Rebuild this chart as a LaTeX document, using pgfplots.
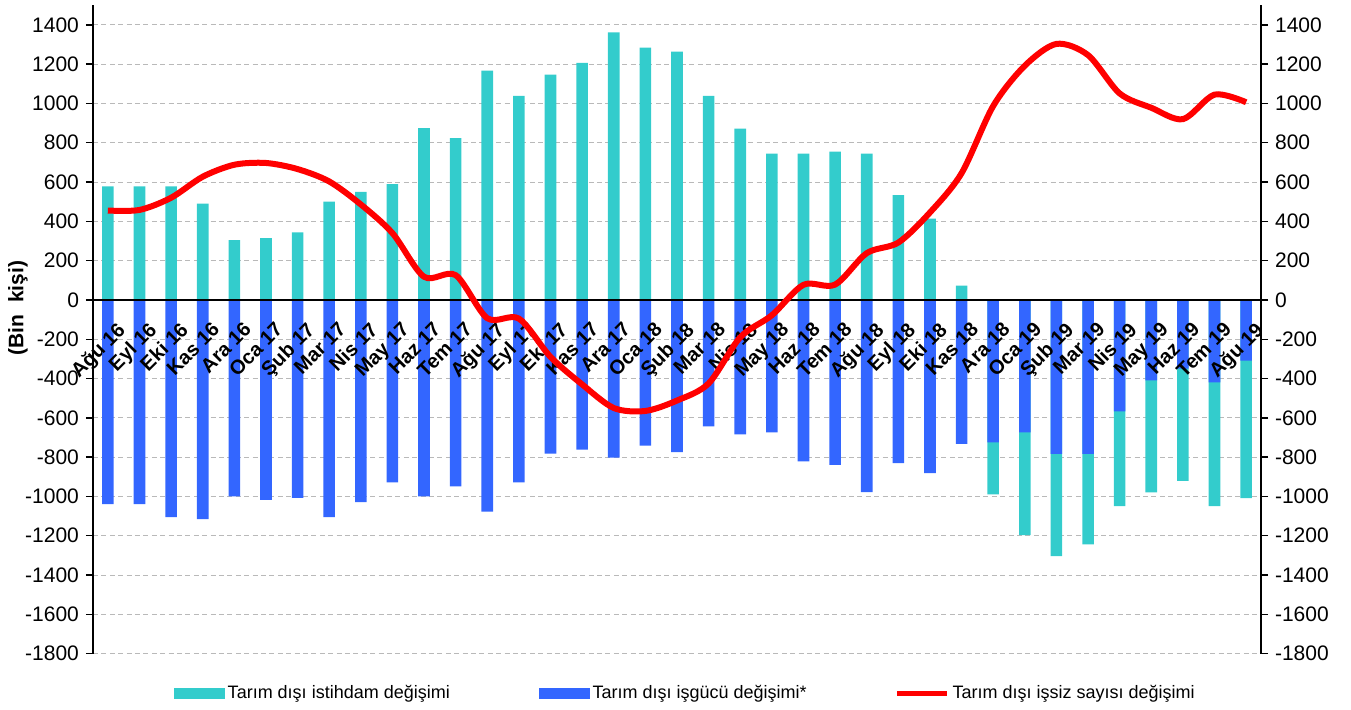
\documentclass[border=0pt]{standalone}
\usepackage{fontspec}
\setmainfont{Liberation Sans}
\usepackage{pgfplots}
\pgfplotsset{compat=1.18}
\definecolor{istcol}{RGB}{51,204,204}
\definecolor{isgcol}{RGB}{51,102,255}
\definecolor{isscol}{RGB}{255,0,0}
\definecolor{gridcol}{RGB}{185,185,185}

\pgfplotsset{
  common/.style={
    at={(0pt,0pt)}, anchor=south west,
    scale only axis, width=584pt, height=324.2pt,
    xmin=-0.47, xmax=36.47, ymin=-1800, ymax=1500,
    hide obscured x ticks=false, hide obscured y ticks=false,
    ytick={-1800,-1600,-1400,-1200,-1000,-800,-600,-400,-200,0,200,400,600,800,1000,1200,1400},
    yticklabels={-1800,-1600,-1400,-1200,-1000,-800,-600,-400,-200,0,200,400,600,800,1000,1200,1400},
    yticklabel style={font=\fontsize{10.5}{12}\selectfont},
    tick align=outside, major tick length=3.5pt,
    y tick style={black, line width=0.7pt},
    x tick style={draw=none},
    y axis line style={black, line width=0.8pt},
    x axis line style={black, line width=1pt},
  }
}

\begin{document}
\begin{tikzpicture}
\begin{axis}[common,
  axis x line*=middle, axis y line*=left,
  xtick=\empty,
  ymajorgrids,
  grid style={dash pattern=on 2.5pt off 1.7pt, color=gridcol, line width=0.5pt},
  ylabel={(Bin\ \ kişi)},
  ylabel style={at={(axis description cs:-0.0642,0.533)}, anchor=center, font=\bfseries\fontsize{10.5}{12}\selectfont},
]
\addplot[ybar, bar width=5.8pt, bar shift=0pt, fill=istcol, draw=none] coordinates {
(0,578) (1,578) (2,578) (3,490) (4,304) (5,314) (6,344) (7,500) (8,550) (9,589)
(10,874) (11,824) (12,1167) (13,1038) (14,1147) (15,1206) (16,1362) (17,1284) (18,1264) (19,1038)
(20,872) (21,745) (22,745) (23,755) (24,745) (25,533) (26,414) (27,73)
(28,-989) (29,-1197) (30,-1304) (31,-1244) (32,-1049) (33,-979) (34,-921) (35,-1049) (36,-1009)
};
\addplot[ybar, bar width=5.8pt, bar shift=0pt, fill=isgcol, draw=none] coordinates {
(0,-1039) (1,-1039) (2,-1105) (3,-1116) (4,-1000) (5,-1017) (6,-1008) (7,-1105) (8,-1029) (9,-929)
(10,-1000) (11,-949) (12,-1077) (13,-929) (14,-782) (15,-762) (16,-803) (17,-741) (18,-774) (19,-643)
(20,-684) (21,-674) (22,-822) (23,-840) (24,-978) (25,-831) (26,-882) (27,-732)
(28,-725) (29,-674) (30,-783) (31,-783) (32,-567) (33,-410) (34,-350) (35,-419) (36,-309)
};
\end{axis}
\begin{axis}[common,
  axis x line*=middle, axis y line*=right,
  xtick={0,...,36},
  xticklabels={Ağu 16, Eyl 16, Eki 16, Kas 16, Ara 16, Oca 17, Şub 17, Mar 17, Nis 17, May 17, Haz 17, Tem 17, Ağu 17, Eyl 17, Eki 17, Kas 17, Ara 17, Oca 18, Şub 18, Mar 18, Nis 18, May 18, Haz 18, Tem 18, Ağu 18, Eyl 18, Eki 18, Kas 18, Ara 18, Oca 19, Şub 19, Mar 19, Nis 19, May 19, Haz 19, Tem 19, Ağu 19},
  xticklabel style={font=\bfseries\fontsize{10}{12}\selectfont, yshift=-2pt, xshift=4pt, rotate=45, anchor=north east},
  yticklabel style={anchor=west},
  legend columns=3,
  legend cell align=left,
  legend style={at={(axis description cs:0.0693,-0.0608)}, anchor=west, draw=none, fill=none,
    inner sep=0pt, outer sep=0pt, font=\fontsize{9}{10}\selectfont,
    nodes={inner sep=0pt, outer sep=0pt},
    /tikz/every odd column/.append style={column sep=1.5pt}},
]
\addlegendimage{legend image code/.code={\fill[istcol] (0pt,-2.5pt) rectangle (25pt,2.5pt);}}
\addlegendentry{\makebox[155.5pt][l]{Tarım dışı istihdam değişimi}}
\addlegendimage{legend image code/.code={\fill[isgcol] (0pt,-2.5pt) rectangle (25pt,2.5pt);}}
\addlegendentry{\makebox[151pt][l]{Tarım dışı işgücü değişimi*}}
\addplot[isscol, line width=3pt, smooth, no marks,
  legend image code/.code={\draw[isscol, line width=2.5pt] (0pt,0pt) -- (25pt,0pt);}] coordinates {
(0,455) (1,458) (2,520) (3,627) (4,688) (5,697) (6,666) (7,603) (8,486) (9,340)
(10,118) (11,126) (12,-93) (13,-95) (14,-290) (15,-430) (16,-550) (17,-565) (18,-512) (19,-425)
(20,-190) (21,-78) (22,77) (23,78) (24,238) (25,292) (26,445) (27,645)
(28,987) (29,1192) (30,1303) (31,1246) (32,1051) (33,978) (34,920) (35,1045) (36,1006)
};
\addlegendentry{Tarım dışı işsiz sayısı değişimi}
\end{axis}
\pgfresetboundingbox
\useasboundingbox (-46.5pt,-27.7pt) rectangle (629pt,326.8pt);
\end{tikzpicture}
\end{document}
